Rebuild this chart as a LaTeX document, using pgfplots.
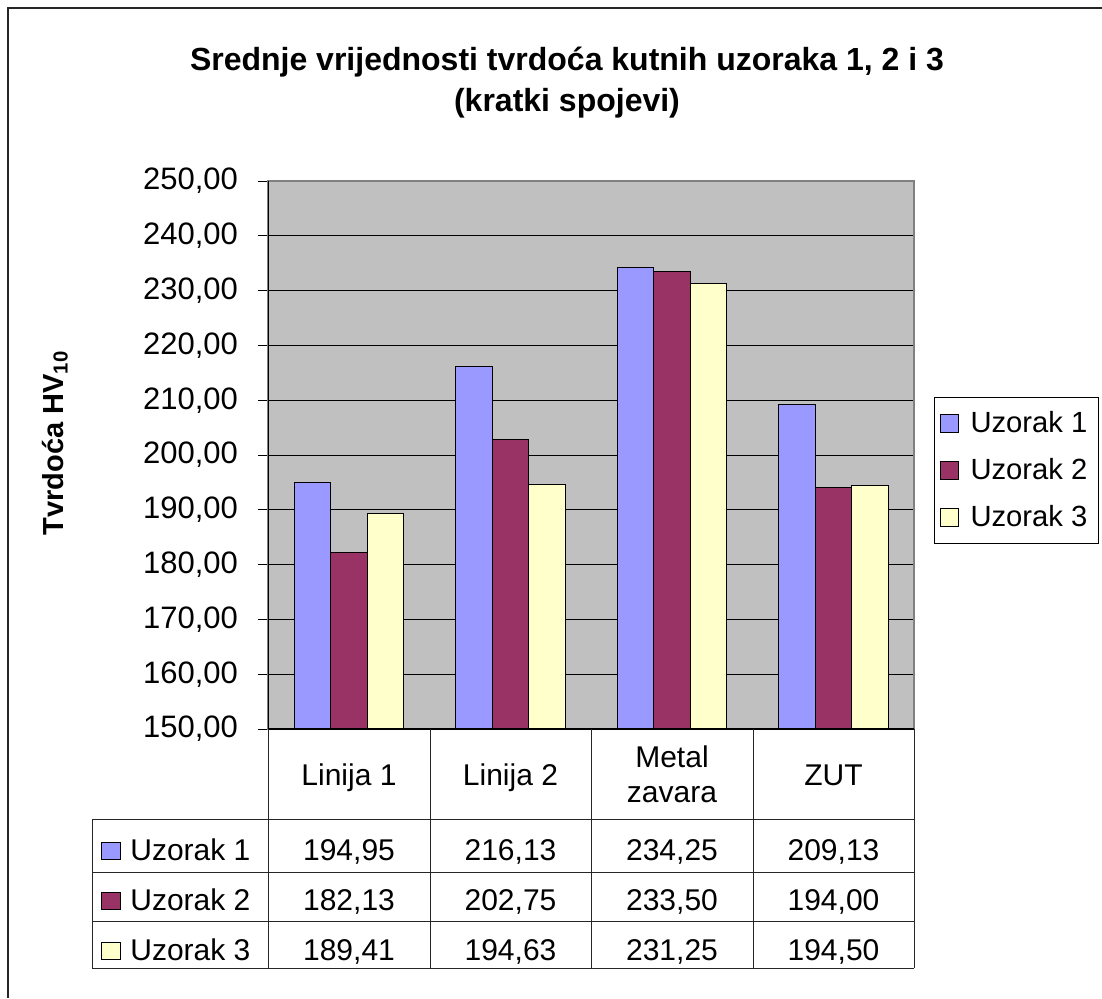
\documentclass[border=0pt]{standalone}
\usepackage{pgfplots}
\pgfplotsset{compat=1.18}
\usepackage{pgfplotstable}
\usepackage{fontspec}
\setmainfont{Liberation Sans}

\definecolor{uzA}{HTML}{9999FF}
\definecolor{uzB}{HTML}{993366}
\definecolor{uzC}{HTML}{FFFFCC}
\definecolor{plotgray}{HTML}{C0C0C0}
\definecolor{rimgray}{HTML}{808080}

% mean HV10 hardness per measuring location
\pgfplotstableread{
pos U1     U2     U3
0   194.95 182.13 189.41
1   216.13 202.75 194.63
2   234.25 233.50 231.25
3   209.13 194.00 194.50
}\hardness

\pgfkeys{/pgf/number format/.cd, fixed, fixed zerofill, precision=2, use comma, assume math mode=true}

\begin{document}
\begin{tikzpicture}
\begin{scope}[x=0.5pt,y=-0.5pt]
  \useasboundingbox (0,0) rectangle (1102,998);
  \draw[black!85, line width=1pt] (8,998) -- (8,8) -- (1102,8);
  \node[font=\bfseries\fontsize{16}{20.5}\selectfont, align=center] at (567,82.5)
    {Srednje vrijednosti tvrdoća kutnih uzoraka 1, 2 i 3\\(kratki spojevi)};
  \node[rotate=90, font=\bfseries\fontsize{14.5}{17}\selectfont] at (55,443)
    {Tvrdoća HV\textsubscript{10}};
\end{scope}

\begin{axis}[
  at={(134pt,-364.5pt)}, anchor=south west,
  width=323pt, height=274pt, scale only axis,
  xmin=-0.5, xmax=3.5, ymin=150, ymax=250,
  ytick distance=10, xtick=\empty,
  ybar=0pt, bar width=18.25pt,
  axis background/.style={fill=plotgray},
  axis line style={draw=rimgray, line width=1pt},
  ymajorgrids, major grid style={black, line width=0.5pt},
  tick align=outside, major tick length=5pt,
  tick style={black, line width=0.5pt},
  ytick pos=left,
  yticklabel style={font=\fontsize{15.5}{18}\selectfont, xshift=-6.5pt},
  every axis plot post/.append style={
    legend image code/.code={%
      \draw[##1,/tikz/.cd,draw=black,line width=0.5pt] (2.5pt,-4.5pt) rectangle (11.5pt,4.5pt);
      \path (14.5pt,0pt);}},
  legend style={at={(1.031,0.606)}, anchor=north west, draw=black, line width=0.5pt,
    fill=white, font=\fontsize{14.6}{17.5}\selectfont,
    inner xsep=2.5pt, inner ysep=6pt, row sep=9.5pt, nodes={inner ysep=1pt, inner xsep=3pt}},
  legend cell align=left,
]
  \addplot[fill=uzA, draw=black, line width=0.5pt] table[x=pos, y=U1] {\hardness};
  \addplot[fill=uzB, draw=black, line width=0.5pt] table[x=pos, y=U2] {\hardness};
  \addplot[fill=uzC, draw=black, line width=0.5pt] table[x=pos, y=U3] {\hardness};
  \legend{Uzorak 1, Uzorak 2, Uzorak 3}
  \draw[black, line width=1pt] (rel axis cs:0,1) -- (rel axis cs:0,0) -- (rel axis cs:1,0);
\end{axis}

% data table under the plot
\begin{scope}[x=0.5pt,y=-0.5pt, font=\fontsize{15}{17.5}\selectfont]
  \draw[black!85, line width=0.5pt]
    (268,729) -- (268,968)
    (430,729) -- (430,968)
    (591,729) -- (591,968)
    (753,729) -- (753,968)
    (914,729) -- (914,968)
    (92,819) -- (914,819)
    (92,872) -- (914,872)
    (92,921) -- (914,921)
    (92,968) -- (914,968)
    (92,819) -- (92,968);
  \node[anchor=base] at (349,785) {Linija 1};
  \node[anchor=base] at (510.5,785) {Linija 2};
  \node[anchor=base] at (672,767.5) {Metal};
  \node[anchor=base] at (672,802.5) {zavara};
  \node[anchor=base] at (833.5,785) {ZUT};
  \foreach \col/\clr/\lbl/\yb in {U1/uzA/Uzorak 1/860, U2/uzB/Uzorak 2/910, U3/uzC/Uzorak 3/960} {
    \draw[fill=\clr, draw=black, line width=0.5pt] (101,\yb-18) rectangle (120,\yb-1);
    \node[anchor=base west, inner sep=0pt] at (130,\yb) {\lbl};
    \foreach \r in {0,...,3} {
      \pgfplotstablegetelem{\r}{\col}\of\hardness
      \node[anchor=base] at (349+161.5*\r,\yb) {\pgfmathprintnumber{\pgfplotsretval}};
    }
  }
\end{scope}
\end{tikzpicture}
\end{document}
